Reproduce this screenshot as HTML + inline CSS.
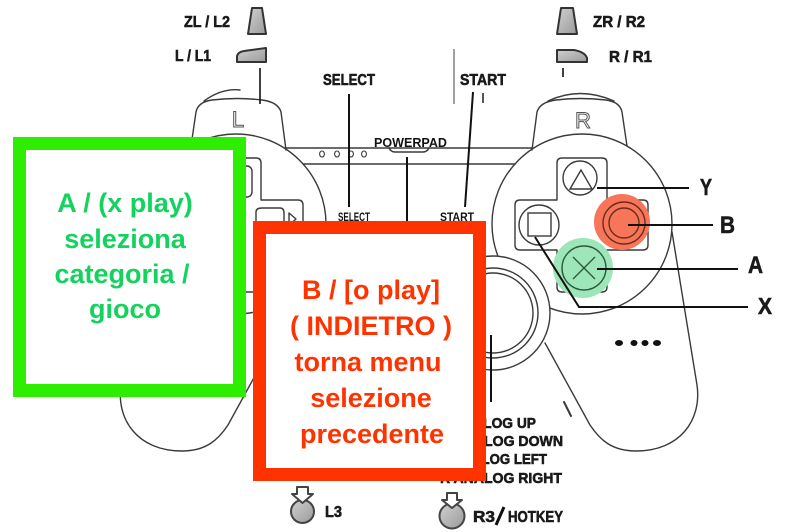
<!DOCTYPE html>
<html><head><meta charset="utf-8"><style>
html,body{margin:0;padding:0;background:#fff;overflow:hidden}
svg{display:block}
.lb{font-family:"Liberation Sans Narrow","Liberation Sans",sans-serif;font-weight:bold;fill:#1a1a1a;stroke:#1a1a1a;stroke-width:0.6}
.bx{font-family:"Liberation Sans",sans-serif;font-weight:bold;font-size:27px}
</style></head><body>
<svg width="800" height="532" viewBox="0 0 800 532" xmlns="http://www.w3.org/2000/svg">
<defs>
<linearGradient id="gr" x1="0" y1="0" x2="1" y2="1"><stop offset="0" stop-color="#d0d0d0"/><stop offset="1" stop-color="#9a9a9a"/></linearGradient>
</defs>
<rect width="800" height="532" fill="#fff"/>

<!-- controller body -->
<g fill="none" stroke="#3a3a3a" stroke-width="1.4" stroke-linecap="round" stroke-linejoin="round">
  <circle cx="236" cy="224" r="90"/>
  <circle cx="582" cy="224" r="90"/>
  <path d="M672 232 L697 385 C702 420 680 451 636 451 C612 451 600 440 590 425 L545 343"/>
  <path d="M146 232 L121 385 C116 420 138 451 182 451 C206 451 218 440 228 425 L273 343"/>
  <line x1="285" y1="148" x2="533" y2="148"/>
  <line x1="303" y1="164" x2="515" y2="164"/>
  <path d="M532 150 L537 112 Q540 102 556 100 Q580 97 606 100 Q620 102 622 112 L627 146"/>
  <path d="M548 101 Q580 86 614 101"/>
  <path d="M286 150 L281 112 Q278 102 262 100 Q238 97 212 100 Q198 102 196 112 L191 146"/>
  <path d="M204 101 Q222 88 240 90"/>
  <path d="M562 158 H602 Q607 158 607 163 V200 H643 Q648 200 648 205 V245 Q648 250 643 250 H607 V287 Q607 292 602 292 H562 Q557 292 557 287 V250 H520 Q515 250 515 245 V205 Q515 200 520 200 H557 V163 Q557 158 562 158 Z"/>
  <path d="M216 158 H256 Q261 158 261 163 V200 H298 Q303 200 303 205 V245 Q303 250 298 250 H261 V287 Q261 292 256 292 H216 Q211 292 211 287 V250 H175 Q170 250 170 245 V205 Q170 200 175 200 H211 V163 Q211 158 216 158 Z"/>
  <rect x="222" y="166" width="30" height="31" rx="5"/>
  <path d="M256 212 Q256 208 262 208 H280 Q284 208 284 213 V240 H256 Z"/>
  <path d="M289 213 L296 219 L289 225 Z"/>
  <path d="M389 148 Q391 152 395 152 H423 Q427 152 429 148"/>
  <path d="M564 402 L571 416" stroke-width="2"/>
</g>
<g fill="none" stroke="#3a3a3a" stroke-width="1.1">
  <ellipse cx="322" cy="154" rx="2.4" ry="3"/>
  <ellipse cx="337" cy="154" rx="2.4" ry="3"/>
  <ellipse cx="351" cy="154" rx="2.4" ry="3"/>
  <ellipse cx="364" cy="154" rx="2.4" ry="3"/>
</g>
<g fill="#111">
  <ellipse cx="619" cy="343" rx="4" ry="3"/>
  <ellipse cx="634" cy="343" rx="3.5" ry="3"/>
  <ellipse cx="645" cy="343" rx="3.5" ry="3"/>
  <ellipse cx="657" cy="343" rx="4" ry="3"/>
</g>

<g fill="#fff" stroke="#3a3a3a" stroke-width="1.4">
  <circle cx="493" cy="313" r="57"/>
  <circle cx="493" cy="313" r="45"/>
  <circle cx="493" cy="313" r="40"/>
</g>

<text x="238" y="127" font-family="Liberation Sans,sans-serif" font-size="22" fill="#fff" stroke="#555" stroke-width="1" text-anchor="middle">L</text>
<text x="583" y="128" font-family="Liberation Sans,sans-serif" font-size="22" fill="#fff" stroke="#555" stroke-width="1" text-anchor="middle">R</text>

<circle cx="622" cy="222" r="28" fill="#f7765a"/>
<circle cx="583" cy="268" r="30" fill="#9de6b9"/>
<g fill="none" stroke="#3a3a3a" stroke-width="1.4">
  <circle cx="580" cy="178" r="17"/>
  <path d="M570 189 L581 170 L592 189 Z"/>
  <circle cx="539" cy="225" r="20"/>
  <rect x="528" y="213" width="23" height="23"/>
  <circle cx="624" cy="223" r="21" stroke="#6b2b1b"/>
  <circle cx="624" cy="223" r="15" stroke="#6b2b1b"/>
  <circle cx="584" cy="268" r="22" stroke="#2d5a3e"/>
  <path d="M573 257 L595 279 M595 257 L573 279" stroke="#2d5a3e"/>
</g>

<g fill="url(#gr)" stroke="#333" stroke-width="2" stroke-linejoin="round">
  <path d="M252 8 L262 8 L266 34 L248 34 Z"/>
  <path d="M237 62 L237 56 Q238 52 244 51 L266 48 L266 62 Z"/>
  <path d="M561 8 L573 8 L577 34 L557 34 Z"/>
  <path d="M557 62 L557 50 L574 50 Q585 52 587 58 L587 62 Z"/>
</g>

<g stroke="#111" stroke-width="2" fill="none">
  <line x1="260" y1="68" x2="260" y2="104" stroke-width="1.6"/>
  <line x1="563" y1="68" x2="563" y2="77" stroke-width="1.6"/>
  <line x1="349" y1="94" x2="349" y2="207"/>
  <line x1="473" y1="92" x2="465" y2="207"/>
  <line x1="483" y1="93" x2="483" y2="103" stroke-width="1.4"/>
  <line x1="454" y1="49" x2="454" y2="104" stroke="#777" stroke-width="1.4"/>
  <line x1="407" y1="157" x2="407" y2="222"/>
  <line x1="597" y1="188" x2="689" y2="188"/>
  <line x1="628" y1="225" x2="713" y2="225"/>
  <line x1="597" y1="269" x2="738" y2="269"/>
  <polyline points="535,237 579,307 748,307"/>
  <line x1="491" y1="335" x2="491" y2="402"/>
</g>

<text class="lb" x="184" y="27" font-size="16" textLength="46" lengthAdjust="spacingAndGlyphs">ZL / L2</text>
<text class="lb" x="175" y="61" font-size="16" textLength="36" lengthAdjust="spacingAndGlyphs">L / L1</text>
<text class="lb" x="593" y="27" font-size="16" textLength="52" lengthAdjust="spacingAndGlyphs">ZR / R2</text>
<text class="lb" x="609" y="62" font-size="16" textLength="43" lengthAdjust="spacingAndGlyphs">R / R1</text>
<text class="lb" x="323" y="85" font-size="16" textLength="52" lengthAdjust="spacingAndGlyphs">SELECT</text>
<text class="lb" x="460" y="85" font-size="16" textLength="46" lengthAdjust="spacingAndGlyphs">START</text>
<text x="374" y="147" font-family="Liberation Sans,sans-serif" font-weight="bold" font-size="13" fill="#111" textLength="73" lengthAdjust="spacingAndGlyphs">POWERPAD</text>
<text x="338" y="221" font-family="Liberation Sans,sans-serif" font-weight="bold" font-size="12" fill="#111" textLength="32" lengthAdjust="spacingAndGlyphs">SELECT</text>
<text x="440" y="221" font-family="Liberation Sans,sans-serif" font-weight="bold" font-size="12" fill="#111" textLength="34" lengthAdjust="spacingAndGlyphs">START</text>
<text class="lb" x="700" y="195" font-size="23" textLength="12" lengthAdjust="spacingAndGlyphs">Y</text>
<text class="lb" x="720" y="233" font-size="24" textLength="15" lengthAdjust="spacingAndGlyphs">B</text>
<text class="lb" x="748" y="273" font-size="24" textLength="15" lengthAdjust="spacingAndGlyphs">A</text>
<text class="lb" x="758" y="314" font-size="23" textLength="14" lengthAdjust="spacingAndGlyphs">X</text>

<text class="lb" x="440" y="428" font-size="15" textLength="96" lengthAdjust="spacingAndGlyphs">R ANALOG UP</text>
<text class="lb" x="440" y="446" font-size="15" textLength="123" lengthAdjust="spacingAndGlyphs">R ANALOG DOWN</text>
<text class="lb" x="440" y="464" font-size="15" textLength="107" lengthAdjust="spacingAndGlyphs">R ANALOG LEFT</text>
<text class="lb" x="440" y="483" font-size="15" textLength="122" lengthAdjust="spacingAndGlyphs">R ANALOG RIGHT</text>

<g stroke="#444" stroke-width="2" stroke-linejoin="round">
  <circle cx="302.5" cy="511.5" r="11.5" fill="url(#gr)"/>
  <path d="M297 487 H308 V494 H313 L302.5 503 L292 494 H297 Z" fill="#fff"/>
  <circle cx="452" cy="516" r="12.5" fill="url(#gr)"/>
  <path d="M447 493 H457 V500 H462 L452 508 L442 500 H447 Z" fill="#fff"/>
</g>
<text class="lb" x="325" y="517" font-size="16" textLength="17" lengthAdjust="spacingAndGlyphs">L3</text>
<text class="lb" x="473" y="522" font-size="16" textLength="22" lengthAdjust="spacingAndGlyphs">R3</text>
<line x1="496" y1="525" x2="504" y2="507" stroke="#111" stroke-width="3"/>
<text class="lb" x="508" y="522" font-size="16" textLength="55" lengthAdjust="spacingAndGlyphs">HOTKEY</text>

<rect x="19.5" y="143.5" width="220" height="247" fill="#fff" stroke="#2eee00" stroke-width="13"/>
<g class="bx" fill="#14d25e" text-anchor="middle">
  <text x="125" y="212">A / (x play)</text>
  <text x="125" y="248">seleziona</text>
  <text x="122" y="283">categoria /</text>
  <text x="125" y="318">gioco</text>
</g>

<rect x="259.5" y="227.5" width="220" height="247" fill="#fff" stroke="#ff3300" stroke-width="13"/>
<g class="bx" fill="#ff3300" text-anchor="middle">
  <text x="371" y="299">B / [o play]</text>
  <text x="371" y="335">( INDIETRO )</text>
  <text x="368" y="371">torna menu</text>
  <text x="371" y="407">selezione</text>
  <text x="372" y="443">precedente</text>
</g>
</svg>
</body></html>
